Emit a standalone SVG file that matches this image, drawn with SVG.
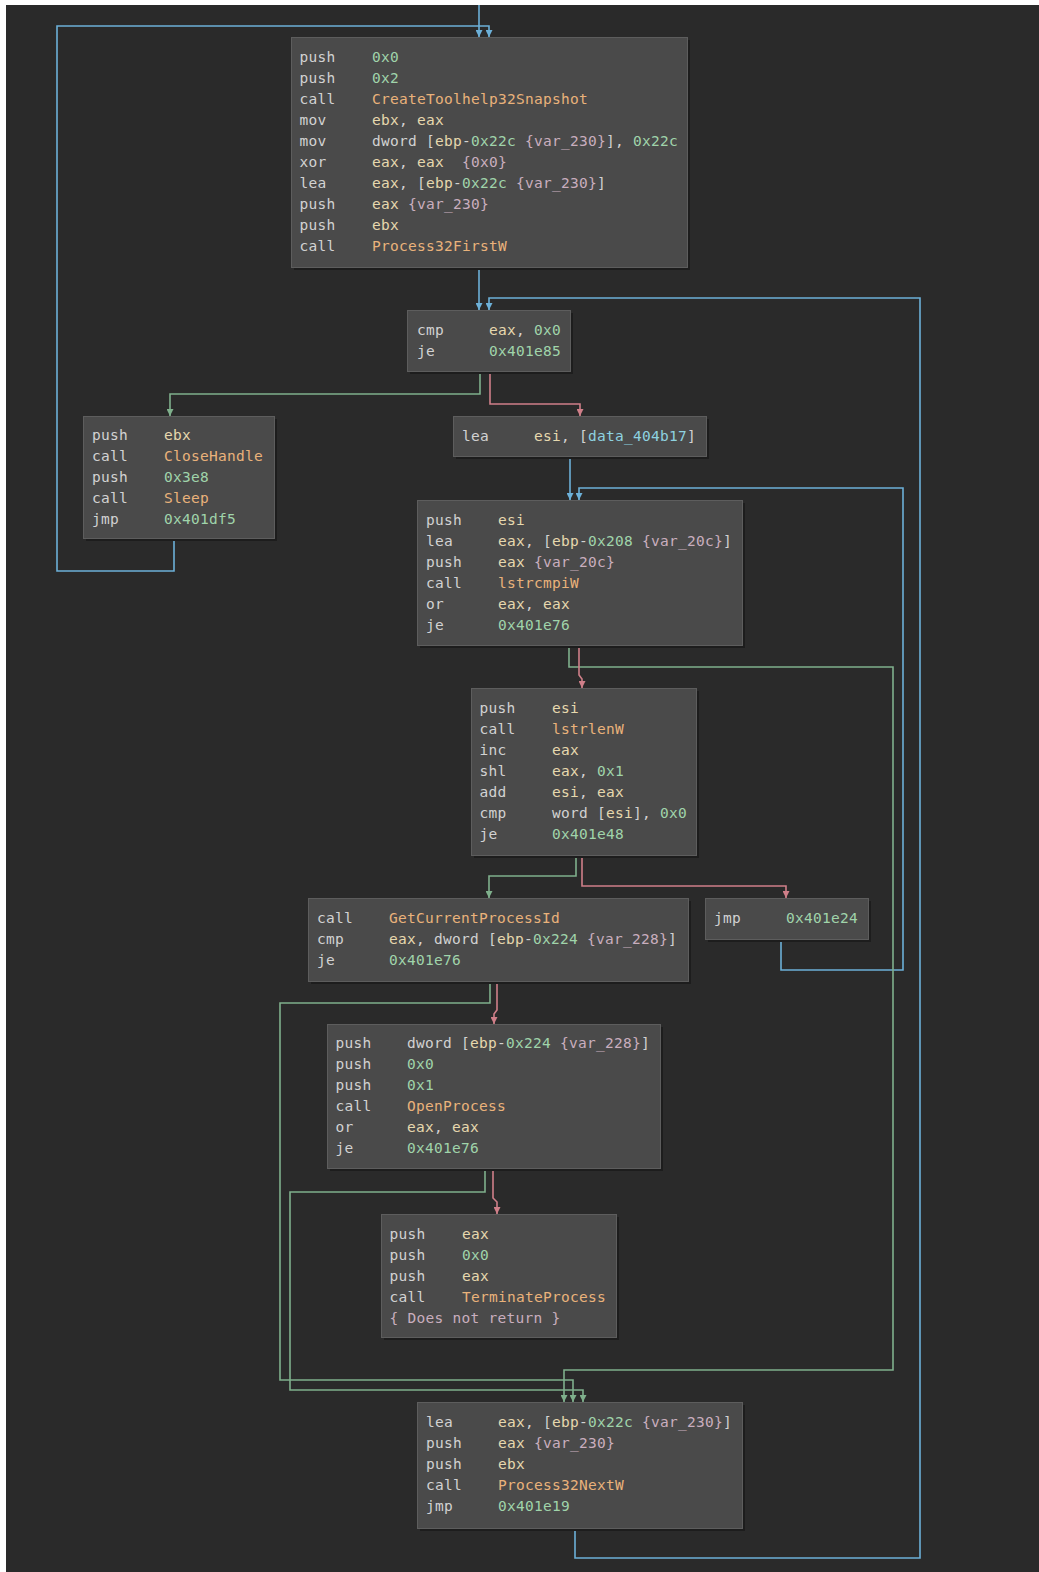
<svg xmlns="http://www.w3.org/2000/svg" width="1039" height="1572" viewBox="0 0 1039 1572">
<style>
.bg{fill:#2a2a2a}
.sh{fill:#1d1d1d}
.nb{fill:#4a4a4a;stroke:#5d5d5d;stroke-width:1}
text{font-family:"DejaVu Sans Mono","Liberation Mono",monospace;font-size:14.5px;letter-spacing:0.27px;white-space:pre;fill:#d2d2d2}
.r{fill:#e6d8ae}
.n{fill:#a0d4aa}
.f{fill:#e9b27b}
.a{fill:#c9aebe}
.d{fill:#8ed2e0}
.e{fill:none;stroke-width:1.6}
.eb{stroke:#6cb0d8}
.eg{stroke:#7fb08c}
.er{stroke:#cf7f89}
</style>
<defs>
<marker id="mb" viewBox="0 0 10 10" refX="10" refY="5" markerWidth="7" markerHeight="7" markerUnits="userSpaceOnUse" orient="auto"><path d="M0,0 L10,5 L0,10 z" fill="#6cb0d8"/></marker>
<marker id="mg" viewBox="0 0 10 10" refX="10" refY="5" markerWidth="7" markerHeight="7" markerUnits="userSpaceOnUse" orient="auto"><path d="M0,0 L10,5 L0,10 z" fill="#7fb08c"/></marker>
<marker id="mr" viewBox="0 0 10 10" refX="10" refY="5" markerWidth="7" markerHeight="7" markerUnits="userSpaceOnUse" orient="auto"><path d="M0,0 L10,5 L0,10 z" fill="#cf7f89"/></marker>
</defs>
<rect x="0" y="0" width="1039" height="1572" fill="#ffffff"/>
<rect class="bg" x="6" y="5" width="1033" height="1567"/>

<g id="connectors">
<polyline class="e eb" marker-end="url(#mb)" points="479,5 479,37"/>
<polyline class="e eb" marker-end="url(#mb)" points="174,538 174,571 57,571 57,26 489,26 489,37"/>
<polyline class="e eb" marker-end="url(#mb)" points="479,267 479,310"/>
<polyline class="e eb" marker-end="url(#mb)" points="575,1528 575,1558 920,1558 920,298 489,298 489,310"/>
<polyline class="e eg" marker-end="url(#mg)" points="480,371 480,394 170,394 170,416"/>
<polyline class="e er" marker-end="url(#mr)" points="490,371 490,404 580,404 580,416"/>
<polyline class="e eb" marker-end="url(#mb)" points="570,456 570,500"/>
<polyline class="e eb" marker-end="url(#mb)" points="781,939 781,970 903,970 903,488 579,488 579,500"/>
<polyline class="e eg" marker-end="url(#mg)" points="569,645 569,667 893,667 893,1370 564,1370 564,1402"/>
<polyline class="e er" marker-end="url(#mr)" points="579,645 579,675 582,679 582,688"/>
<polyline class="e eg" marker-end="url(#mg)" points="576,855 576,876 489,876 489,898"/>
<polyline class="e er" marker-end="url(#mr)" points="582,855 582,886 786,886 786,898"/>
<polyline class="e eg" marker-end="url(#mg)" points="490,981 490,1003 280,1003 280,1380 573,1380 573,1402"/>
<polyline class="e er" marker-end="url(#mr)" points="497,981 497,1010 494,1014 494,1024"/>
<polyline class="e eg" marker-end="url(#mg)" points="485,1168 485,1192 290,1192 290,1390 583,1390 583,1402"/>
<polyline class="e er" marker-end="url(#mr)" points="493,1168 493,1198 497,1202 497,1214"/>
</g>

<g id="nodeA">
<rect class="sh" x="294" y="40" width="396" height="230"/>
<rect class="nb" x="291.5" y="37.5" width="396" height="230"/>
<text x="299.5" y="62">push</text><text x="372" y="62" class="n">0x0</text>
<text x="299.5" y="83">push</text><text x="372" y="83" class="n">0x2</text>
<text x="299.5" y="104">call</text><text x="372" y="104" class="f">CreateToolhelp32Snapshot</text>
<text x="299.5" y="125">mov</text><text x="372" y="125"><tspan class="r">ebx</tspan>, <tspan class="r">eax</tspan></text>
<text x="299.5" y="146">mov</text><text x="372" y="146">dword [<tspan class="r">ebp</tspan>-<tspan class="n">0x22c</tspan> <tspan class="a">{var_230}</tspan>], <tspan class="n">0x22c</tspan></text>
<text x="299.5" y="167">xor</text><text x="372" y="167"><tspan class="r">eax</tspan>, <tspan class="r">eax</tspan>  <tspan class="a">{0x0}</tspan></text>
<text x="299.5" y="188">lea</text><text x="372" y="188"><tspan class="r">eax</tspan>, [<tspan class="r">ebp</tspan>-<tspan class="n">0x22c</tspan> <tspan class="a">{var_230}</tspan>]</text>
<text x="299.5" y="209">push</text><text x="372" y="209"><tspan class="r">eax</tspan> <tspan class="a">{var_230}</tspan></text>
<text x="299.5" y="230">push</text><text x="372" y="230" class="r">ebx</text>
<text x="299.5" y="251">call</text><text x="372" y="251" class="f">Process32FirstW</text>
</g>

<g id="nodeB">
<rect class="sh" x="410" y="313" width="163" height="61"/>
<rect class="nb" x="407.5" y="310.5" width="163" height="61"/>
<text x="417" y="335">cmp</text><text x="489" y="335"><tspan class="r">eax</tspan>, <tspan class="n">0x0</tspan></text>
<text x="417" y="356">je</text><text x="489" y="356" class="n">0x401e85</text>
</g>

<g id="nodeC">
<rect class="sh" x="86" y="419" width="191" height="122"/>
<rect class="nb" x="83.5" y="416.5" width="191" height="122"/>
<text x="92" y="440">push</text><text x="164" y="440" class="r">ebx</text>
<text x="92" y="461">call</text><text x="164" y="461" class="f">CloseHandle</text>
<text x="92" y="482">push</text><text x="164" y="482" class="n">0x3e8</text>
<text x="92" y="503">call</text><text x="164" y="503" class="f">Sleep</text>
<text x="92" y="524">jmp</text><text x="164" y="524" class="n">0x401df5</text>
</g>

<g id="nodeD">
<rect class="sh" x="456" y="419" width="253" height="40"/>
<rect class="nb" x="453.5" y="416.5" width="253" height="40"/>
<text x="462" y="441">lea</text><text x="534" y="441"><tspan class="r">esi</tspan>, [<tspan class="d">data_404b17</tspan>]</text>
</g>

<g id="nodeE">
<rect class="sh" x="420" y="503" width="325" height="145"/>
<rect class="nb" x="417.5" y="500.5" width="325" height="145"/>
<text x="426" y="525">push</text><text x="498" y="525" class="r">esi</text>
<text x="426" y="546">lea</text><text x="498" y="546"><tspan class="r">eax</tspan>, [<tspan class="r">ebp</tspan>-<tspan class="n">0x208</tspan> <tspan class="a">{var_20c}</tspan>]</text>
<text x="426" y="567">push</text><text x="498" y="567"><tspan class="r">eax</tspan> <tspan class="a">{var_20c}</tspan></text>
<text x="426" y="588">call</text><text x="498" y="588" class="f">lstrcmpiW</text>
<text x="426" y="609">or</text><text x="498" y="609"><tspan class="r">eax</tspan>, <tspan class="r">eax</tspan></text>
<text x="426" y="630">je</text><text x="498" y="630" class="n">0x401e76</text>
</g>

<g id="nodeF">
<rect class="sh" x="474" y="691" width="225" height="167"/>
<rect class="nb" x="471.5" y="688.5" width="225" height="167"/>
<text x="479.5" y="713">push</text><text x="552" y="713" class="r">esi</text>
<text x="479.5" y="734">call</text><text x="552" y="734" class="f">lstrlenW</text>
<text x="479.5" y="755">inc</text><text x="552" y="755" class="r">eax</text>
<text x="479.5" y="776">shl</text><text x="552" y="776"><tspan class="r">eax</tspan>, <tspan class="n">0x1</tspan></text>
<text x="479.5" y="797">add</text><text x="552" y="797"><tspan class="r">esi</tspan>, <tspan class="r">eax</tspan></text>
<text x="479.5" y="818">cmp</text><text x="552" y="818">word [<tspan class="r">esi</tspan>], <tspan class="n">0x0</tspan></text>
<text x="479.5" y="839">je</text><text x="552" y="839" class="n">0x401e48</text>
</g>

<g id="nodeG">
<rect class="sh" x="311" y="901" width="380" height="83"/>
<rect class="nb" x="308.5" y="898.5" width="380" height="83"/>
<text x="317" y="923">call</text><text x="389" y="923" class="f">GetCurrentProcessId</text>
<text x="317" y="944">cmp</text><text x="389" y="944"><tspan class="r">eax</tspan>, dword [<tspan class="r">ebp</tspan>-<tspan class="n">0x224</tspan> <tspan class="a">{var_228}</tspan>]</text>
<text x="317" y="965">je</text><text x="389" y="965" class="n">0x401e76</text>
</g>

<g id="nodeH">
<rect class="sh" x="708" y="901" width="163" height="41"/>
<rect class="nb" x="705.5" y="898.5" width="163" height="41"/>
<text x="714" y="923">jmp</text><text x="786" y="923" class="n">0x401e24</text>
</g>

<g id="nodeI">
<rect class="sh" x="330" y="1027" width="333" height="144"/>
<rect class="nb" x="327.5" y="1024.5" width="333" height="144"/>
<text x="335.5" y="1048">push</text><text x="407" y="1048">dword [<tspan class="r">ebp</tspan>-<tspan class="n">0x224</tspan> <tspan class="a">{var_228}</tspan>]</text>
<text x="335.5" y="1069">push</text><text x="407" y="1069" class="n">0x0</text>
<text x="335.5" y="1090">push</text><text x="407" y="1090" class="n">0x1</text>
<text x="335.5" y="1111">call</text><text x="407" y="1111" class="f">OpenProcess</text>
<text x="335.5" y="1132">or</text><text x="407" y="1132"><tspan class="r">eax</tspan>, <tspan class="r">eax</tspan></text>
<text x="335.5" y="1153">je</text><text x="407" y="1153" class="n">0x401e76</text>
</g>

<g id="nodeJ">
<rect class="sh" x="384" y="1217" width="235" height="123"/>
<rect class="nb" x="381.5" y="1214.5" width="235" height="123"/>
<text x="389.5" y="1239">push</text><text x="462" y="1239" class="r">eax</text>
<text x="389.5" y="1260">push</text><text x="462" y="1260" class="n">0x0</text>
<text x="389.5" y="1281">push</text><text x="462" y="1281" class="r">eax</text>
<text x="389.5" y="1302">call</text><text x="462" y="1302" class="f">TerminateProcess</text>
<text x="389.5" y="1323" class="a">{ Does not return }</text>
</g>

<g id="nodeK">
<rect class="sh" x="420" y="1405" width="325" height="126"/>
<rect class="nb" x="417.5" y="1402.5" width="325" height="126"/>
<text x="426" y="1427">lea</text><text x="498" y="1427"><tspan class="r">eax</tspan>, [<tspan class="r">ebp</tspan>-<tspan class="n">0x22c</tspan> <tspan class="a">{var_230}</tspan>]</text>
<text x="426" y="1448">push</text><text x="498" y="1448"><tspan class="r">eax</tspan> <tspan class="a">{var_230}</tspan></text>
<text x="426" y="1469">push</text><text x="498" y="1469" class="r">ebx</text>
<text x="426" y="1490">call</text><text x="498" y="1490" class="f">Process32NextW</text>
<text x="426" y="1511">jmp</text><text x="498" y="1511" class="n">0x401e19</text>
</g>
</svg>
